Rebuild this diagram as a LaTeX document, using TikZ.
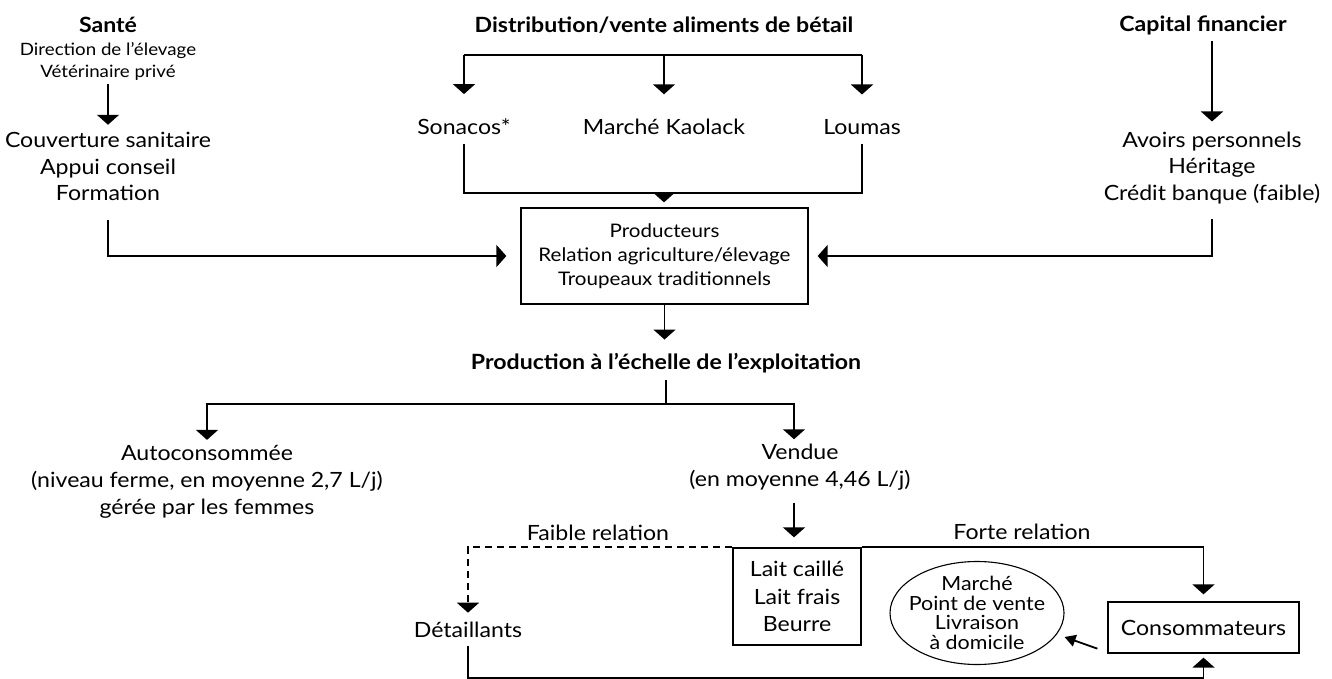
\documentclass[tikz,border=0pt]{standalone}
\usepackage{fontspec}
\setmainfont{Lato}[FakeStretch=1.1]
\usetikzlibrary{arrows.meta,shapes.geometric}
\begin{document}
\begin{tikzpicture}[x=1pt,y=-1pt,line width=1.8pt,
  lbl/.style={inner sep=0pt,align=center,font=\fontsize{21}{26.5}\selectfont},
  hdr/.style={inner sep=0pt,font=\bfseries\fontsize{21}{24}\selectfont},
  sub/.style={inner sep=0pt,align=center,font=\fontsize{17}{22}\selectfont},
  boxed/.style={draw,line width=1.3pt,inner sep=0pt,align=center},
  arr/.style={-{Triangle[length=10pt,width=22pt]}},
  weak/.style={dash pattern=on 7pt off 5pt}]
\useasboundingbox (0,0) rectangle (1332,679);

% health services
\node[hdr] (sante) at (108,25) {Santé};
\node[sub] (santeSrc) at (108,61) {Direction de l’élevage\\Vétérinaire privé};
\node[lbl] (santeOut) at (108,166.5) {Couverture sanitaire\\Appui conseil\\Formation};

% feed distribution
\node[hdr] (distrib) at (664,25) {Distribution/vente aliments de bétail};
\coordinate (feedTop) at (664,55);
\node[lbl] (sonacos) at (464,127) {Sonacos*};
\node[lbl] (kaolack) at (664,127) {Marché Kaolack};
\node[lbl] (loumas) at (862,127) {Loumas};
\coordinate (feedBot) at (664,193);

% financial capital
\node[hdr] (capital) at (1203,25) {Capital financier};
\node[lbl] (capOut) at (1212,168) {Avoirs personnels\\Héritage\\Crédit banque (faible)};

% producers
\node[boxed,minimum width=287pt,minimum height=96pt,font=\fontsize{18.7}{24}\selectfont]
  (prod) at (664.5,256) {Producteurs\\Relation agriculture/élevage\\Troupeaux traditionnels};

% farm-level production
\node[hdr] (prodHead) at (666,363) {Production à l’échelle de l’exploitation};
\coordinate (split) at (666,404);
\node[lbl,font=\fontsize{21}{27}\selectfont] (auto) at (207,482)
  {Autoconsommée\\(niveau ferme, en moyenne 2,7 L/j)\\gérée par les femmes};
\node[lbl,font=\fontsize{21}{27}\selectfont] (vendue) at (800,467.5)
  {Vendue\\(en moyenne 4,46 L/j)};

% marketing chain
\node[boxed,minimum width=128pt,minimum height=97pt,font=\fontsize{21}{27.5}\selectfont]
  (lait) at (797,596.5) {Lait caillé\\Lait frais\\Beurre};
\node[lbl] (detail) at (468,630) {Détaillants};
\node[boxed,minimum width=191pt,minimum height=51pt,font=\fontsize{21}{24}\selectfont]
  (conso) at (1203.5,627.5) {Consommateurs};
\node[draw,ellipse,line width=1.1pt,minimum width=174pt,minimum height=103pt,inner sep=0pt]
  (outlets) at (977,613) {};
\node[inner sep=0pt,align=center,font=\fontsize{19.5}{19.7}\selectfont]
  (outletsTxt) at (outlets.center) {Marché\\Point de vente\\Livraison\\à domicile};
\node[lbl] (faible) at (598,533) {Faible relation};
\node[lbl] (forte) at (1022,532) {Forte relation};
\coordinate (bottom) at (800,678);

% connectors: inputs
\draw[arr,shorten <=3.6pt,shorten >=6.6pt] (santeSrc.south) -- (santeOut.north);
\draw[arr,shorten <=18pt,shorten >=14pt] (santeOut.south) |- (prod.west);
\draw[arr,shorten <=5.4pt,shorten >=9.6pt] (capOut.north |- capital.south) -- (capOut.north);
\draw[arr,shorten <=14pt,shorten >=9pt] (capOut.south) |- (prod.east);

\draw (sonacos.north |- feedTop) -- (loumas.north |- feedTop);
\foreach \n in {sonacos,kaolack,loumas}
  \draw[arr,shorten >=24pt] (\n.north |- feedTop) -- (\n.north);
\draw[shorten <=8pt] (sonacos.south) |- (feedBot);
\draw[shorten <=8pt] (loumas.south) |- (feedBot);
\draw[arr,shorten >=5pt] (feedBot) -- (feedBot |- prod.north);

% connectors: production
\draw[arr,shorten >=12.7pt] (prod.south) -- (prod.south |- prodHead.north);
\draw[shorten <=6.7pt] (prodHead.south) -- (split);
\draw[arr,shorten >=4.7pt] (split) -| (auto.north);
\draw[arr,shorten >=4.2pt] (split) -| ([xshift=-6pt]vendue.north);
\draw[arr,shorten <=11pt,shorten >=10pt] ([xshift=-6pt]vendue.south) -- ([xshift=-3pt]lait.north);

% connectors: marketing
\draw[arr,weak,shorten >=8.6pt] (lait.north west) -| (detail.north);
\draw[arr,shorten >=7pt] (lait.north east) -| (conso.north);
\draw[arr,shorten <=7pt,shorten >=4pt] (detail.south) |- (bottom) -| (conso.south);
\draw[-{Triangle[length=11pt,width=12pt]}] ([xshift=-10pt,yshift=5pt]conso.south west)
  -- ([yshift=-24pt]outlets.east);
\end{tikzpicture}
\end{document}
